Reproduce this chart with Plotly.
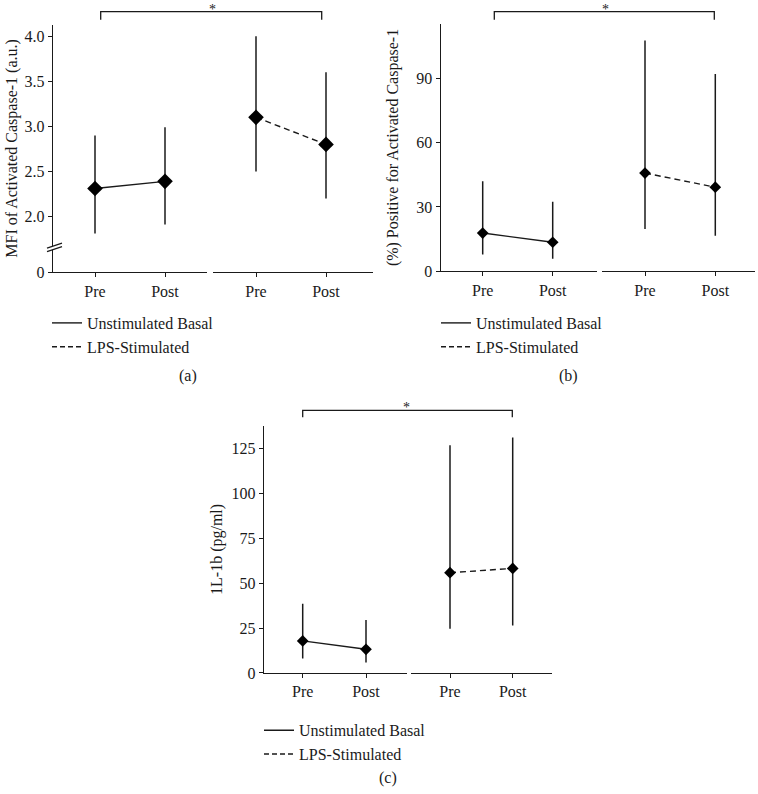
import plotly.graph_objects as go

# ---------------- data ----------------
groups = ["Pre", "Post"]
series_names = ["Unstimulated Basal", "LPS-Stimulated"]

# (a) MFI of Activated Caspase-1 (a.u.)
a_basal = [2.31, 2.39]
a_basal_hi = [2.90, 2.99]
a_basal_lo = [1.81, 1.91]
a_lps = [3.10, 2.80]
a_lps_hi = [4.00, 3.60]
a_lps_lo = [2.50, 2.20]

# (b) (%) Positive for Activated Caspase-1
b_basal = [17.8, 13.5]
b_basal_hi = [42.0, 32.4]
b_basal_lo = [7.8, 5.8]
b_lps = [45.8, 39.2]
b_lps_hi = [107.7, 92.0]
b_lps_lo = [19.7, 16.6]

# (c) 1L-1b (pg/ml)
c_basal = [17.9, 13.2]
c_basal_hi = [38.6, 29.6]
c_basal_lo = [8.1, 5.9]
c_lps = [55.9, 58.3]
c_lps_hi = [126.9, 131.3]
c_lps_lo = [24.7, 26.5]

a_ticks = [2.0, 2.5, 3.0, 3.5, 4.0]
b_ticks = [0, 30, 60, 90]
c_ticks = [0, 25, 50, 75, 100, 125]

panel_labels = ["(a)", "(b)", "(c)"]
y_titles = ["MFI of Activated Caspase-1 (a.u.)",
            "(%) Positive for Activated Caspase-1",
            "1L-1b (pg/ml)"]

# ---------------- layout helpers ----------------
W, H = 758, 794
FONT = "Liberation Serif"
INK = "#1a1a1a"


def px(x):
    return x / W


def py(y):
    return 1 - y / H


def xdom(x0, x1):
    return [px(x0), px(x1)]


def ydom(y_top, y_bot):
    return [py(y_bot), py(y_top)]


def xrange_for(d0, d1, p_pre, p_post):
    s = p_post - p_pre
    return [(d0 - p_pre) / s, (d1 - p_pre) / s]


fig = go.Figure()


def add_pair(vals, hi, lo, xa, ya, dash, msize):
    fig.add_trace(go.Scatter(
        x=groups, y=vals, xaxis=xa, yaxis=ya, mode="lines+markers",
        showlegend=False, hoverinfo="x+y",
        line=dict(color=INK, width=1.4, dash=dash),
        marker=dict(symbol="diamond", size=msize, color="black"),
        error_y=dict(type="data", symmetric=False,
                     array=[h - v for h, v in zip(hi, vals)],
                     arrayminus=[v - l for v, l in zip(vals, lo)],
                     width=0, thickness=1.5, color=INK),
    ))


DASH = "6px,4px"
add_pair(a_basal, a_basal_hi, a_basal_lo, "x", "y", "solid", 12)
add_pair(a_lps, a_lps_hi, a_lps_lo, "x2", "y", DASH, 12)
add_pair(b_basal, b_basal_hi, b_basal_lo, "x3", "y2", "solid", 9)
add_pair(b_lps, b_lps_hi, b_lps_lo, "x4", "y2", DASH, 9)
add_pair(c_basal, c_basal_hi, c_basal_lo, "x5", "y3", "solid", 9)
add_pair(c_lps, c_lps_hi, c_lps_lo, "x6", "y3", DASH, 9)

# legend entries (one legend per panel)
for lg, xa, ya in [("legend", "x", "y"), ("legend2", "x3", "y2"), ("legend3", "x5", "y3")]:
    for name, dash in zip(series_names, ["solid", "5px,3px"]):
        fig.add_trace(go.Scatter(
            x=[None], y=[None], xaxis=xa, yaxis=ya, mode="lines", name=name,
            legend=lg, line=dict(color=INK, width=1.4, dash=dash),
        ))

tickfont = dict(family=FONT, size=16, color=INK)
common_x = dict(showline=True, linecolor=INK, linewidth=1.4, ticks="outside",
                ticklen=4, tickcolor=INK, tickwidth=1.3, showgrid=False,
                zeroline=False, tickfont=tickfont, type="category", fixedrange=True)
common_y = dict(showline=True, linecolor=INK, linewidth=1.4, ticks="outside",
                ticklen=4, tickcolor=INK, tickwidth=1.3, showgrid=False,
                zeroline=False, tickfont=tickfont, fixedrange=True,
                title_font=dict(family=FONT, size=16, color=INK))

# axis break offset for panel (a): value drawn at the broken baseline
A_BASE = 1.382
A_TOP = 4.128

layout = dict(
    width=W, height=H, autosize=False,
    margin=dict(l=0, r=0, t=0, b=0),
    paper_bgcolor="white", plot_bgcolor="white",
    font=dict(family=FONT, size=16, color=INK),
    # panel (a)
    xaxis=dict(common_x, domain=xdom(53, 207), anchor="y", range=xrange_for(53, 207, 95, 165)),
    xaxis2=dict(common_x, domain=xdom(213, 373), anchor="y", range=xrange_for(213, 373, 256, 326)),
    yaxis=dict(common_y, domain=ydom(25, 275.3), anchor="x", range=[A_BASE, A_TOP],
               tickvals=[A_BASE] + a_ticks,
               ticktext=["0"] + [f"{t:.1f}" for t in a_ticks],
               title=dict(text=y_titles[0], standoff=2)),
    # panel (b)
    xaxis3=dict(common_x, domain=xdom(440.7, 596.7), anchor="y2", range=xrange_for(440.7, 596.7, 482.7, 552.7)),
    xaxis4=dict(common_x, domain=xdom(602, 755), anchor="y2", range=xrange_for(602, 755, 645, 715.3)),
    yaxis2=dict(common_y, domain=ydom(24, 274.3), anchor="x3", range=[0, 115.5],
                tickvals=b_ticks, title=dict(text=y_titles[1], standoff=13)),
    # panel (c)
    xaxis5=dict(common_x, domain=xdom(264, 406.7), anchor="y3", range=xrange_for(264, 406.7, 302.7, 366)),
    xaxis6=dict(common_x, domain=xdom(411, 551.7), anchor="y3", range=xrange_for(411, 551.7, 450, 512.7)),
    yaxis3=dict(common_y, domain=ydom(430.7, 680.7), anchor="x5", range=[0, 137.8],
                tickvals=c_ticks, title=dict(text=y_titles[2], standoff=4)),
)

leg_common = dict(xanchor="left", yanchor="top", bgcolor="rgba(0,0,0,0)",
                  borderwidth=0, font=dict(family=FONT, size=16, color=INK),
                  tracegroupgap=0, itemwidth=30)
layout["legend"] = dict(leg_common, x=px(47), y=py(309.5))
layout["legend2"] = dict(leg_common, x=px(436), y=py(309.5))
layout["legend3"] = dict(leg_common, x=px(259), y=py(721.5))
fig.update_layout(**layout)

# significance brackets
shapes = []
annotations = []
for (xl, xr, ytop, ybot, xs, ys) in [
    (100.7, 321.7, 11.7, 20.0, 212, 0.0),
    (494.3, 714.3, 11.7, 20.0, 605, 0.0),
    (302.7, 512.3, 415.0, 422.0, 406.7, 402.5),
]:
    shapes.append(dict(type="path", xref="paper", yref="paper",
                       path=f"M {px(xl)},{py(ybot)} L {px(xl)},{py(ytop)} L {px(xr)},{py(ytop)} L {px(xr)},{py(ybot)}",
                       line=dict(color=INK, width=1.3)))
    annotations.append(dict(text="*", x=px(xs), y=py(ys), xref="paper", yref="paper",
                            showarrow=False, font=dict(family=FONT, size=14, color=INK),
                            xanchor="center", yanchor="top"))

# axis-break marks for panel (a)
shapes.append(dict(type="path", xref="paper", yref="paper", layer="above",
                   path=f"M {px(47)},{py(251)} L {px(62)},{py(246)} L {px(62)},{py(249.5)} L {px(47)},{py(254.5)} Z",
                   fillcolor="white", line=dict(width=0)))
for (x0, y0, x1, y1) in [(47, 251, 62, 246), (47, 254.5, 62, 249.5)]:
    shapes.append(dict(type="line", xref="paper", yref="paper", layer="above",
                       x0=px(x0), y0=py(y0), x1=px(x1), y1=py(y1),
                       line=dict(color=INK, width=1.3)))

for lab, (x, y) in zip(panel_labels, [(187.7, 380), (568, 380), (388, 787)]):
    annotations.append(dict(text=lab, x=px(x), y=py(y), xref="paper", yref="paper",
                            showarrow=False, font=dict(family=FONT, size=16, color=INK),
                            xanchor="center", yanchor="middle"))

fig.update_layout(shapes=shapes, annotations=annotations)

# place the figure flush with the page corner (remove the default body margin)
fig.write_html("out.html", config={"displayModeBar": False},
               post_script="document.body.style.margin='0px';")
